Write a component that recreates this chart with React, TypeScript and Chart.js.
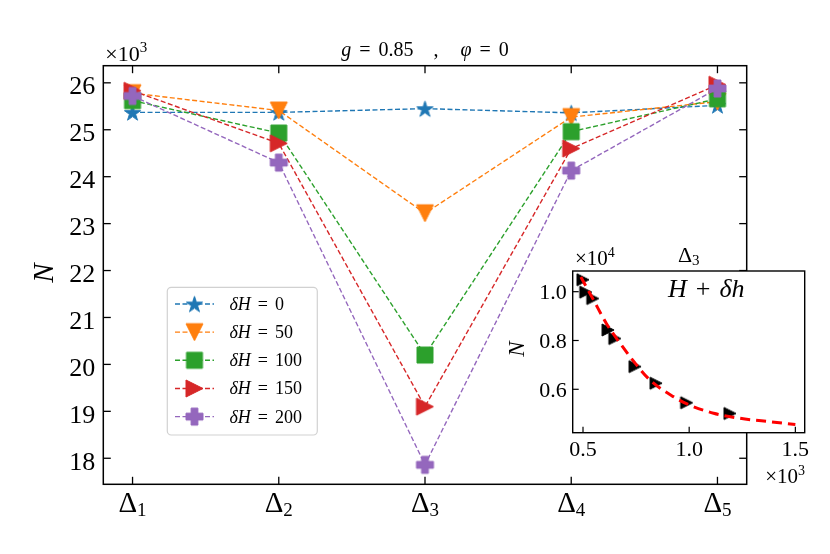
import React, { useEffect, useRef } from "react";
import { Chart, registerables } from "chart.js";

Chart.register(...registerables);

// ---------- data ----------
const categories = ["1", "2", "3", "4", "5"]; // subscripts of Δ
const seriesLabels = ["0", "50", "100", "150", "200"]; // δH values
const dH0 = [25370, 25370, 25450, 25360, 25520];
const dH50 = [25780, 25410, 23220, 25270, 25600];
const dH100 = [25620, 24930, 20200, 24960, 25660];
const dH150 = [25830, 24710, 19100, 24600, 25960];
const dH200 = [25720, 24300, 17860, 24130, 25880];
const yTicks = [18000, 19000, 20000, 21000, 22000, 23000, 24000, 25000, 26000];
const yTickLabels = ["18", "19", "20", "21", "22", "23", "24", "25", "26"];

const insetX = [500, 513, 546, 618, 650, 745, 844, 988, 1192];
const insetY = [10490, 9980, 9720, 8430, 8080, 6930, 6250, 5450, 5010];
const fitX = [490, 550, 610, 675, 740, 815, 925, 1000, 1115, 1240, 1380, 1500];
const fitY = [10600, 9650, 8700, 7880, 7130, 6380, 5700, 5360, 5020, 4810, 4670, 4560];
const insetXTicks = [500, 1000, 1500];
const insetXTickLabels = ["0.5", "1.0", "1.5"];
const insetYTicks = [6000, 8000, 10000];
const insetYTickLabels = ["0.6", "0.8", "1.0"];

// ---------- styles ----------
const COLORS = ["#1f77b4", "#ff7f0e", "#2ca02c", "#d62728", "#9467bd"];
const SHAPES = ["star", "v", "square", ">", "plus"];
const SIZES = [17, 17, 16, 17, 17];
const FAM = '"Liberation Serif", "DejaVu Serif", serif';
const rm = (px: number) => `${px}px ${FAM}`;
const it = (px: number) => `italic ${px}px ${FAM}`;

function makeMarker(shape: string, color: string, s: number): HTMLCanvasElement {
  const n = Math.ceil(s + 4);
  const c = document.createElement("canvas");
  c.width = n;
  c.height = n;
  const g = c.getContext("2d")!;
  g.translate(n / 2, n / 2);
  const h = s / 2;
  g.beginPath();
  if (shape === "star") {
    const R = h;
    const r = R * 0.382;
    for (let k = 0; k < 10; k++) {
      const ang = -Math.PI / 2 + (k * Math.PI) / 5;
      const rr = k % 2 === 0 ? R : r;
      const px = rr * Math.cos(ang);
      const py = rr * Math.sin(ang) + R * 0.1;
      if (k === 0) g.moveTo(px, py);
      else g.lineTo(px, py);
    }
  } else if (shape === "v") {
    g.moveTo(-h, -h);
    g.lineTo(h, -h);
    g.lineTo(0, h);
  } else if (shape === ">") {
    g.moveTo(-h, -h);
    g.lineTo(h, 0);
    g.lineTo(-h, h);
  } else if (shape === "square") {
    g.rect(-h, -h, s, s);
  } else if (shape === "plus") {
    const a = s * 0.2;
    g.moveTo(-a, -h);
    g.lineTo(a, -h);
    g.lineTo(a, -a);
    g.lineTo(h, -a);
    g.lineTo(h, a);
    g.lineTo(a, a);
    g.lineTo(a, h);
    g.lineTo(-a, h);
    g.lineTo(-a, a);
    g.lineTo(-h, a);
    g.lineTo(-h, -a);
    g.lineTo(-a, -a);
  }
  g.closePath();
  g.fillStyle = color;
  g.fill();
  g.strokeStyle = color;
  g.lineWidth = 1;
  g.stroke();
  return c;
}

type Seg = { t: string; f: string; dx?: number; dy?: number };
function segsWidth(ctx: CanvasRenderingContext2D, segs: Seg[]) {
  let w = 0;
  for (const s of segs) {
    ctx.font = s.f;
    w += (s.dx || 0) + ctx.measureText(s.t).width;
  }
  return w;
}
function drawSegs(
  ctx: CanvasRenderingContext2D,
  segs: Seg[],
  x: number,
  y: number,
  align: "left" | "center" | "right"
) {
  const w = segsWidth(ctx, segs);
  let cx = align === "left" ? x : align === "center" ? x - w / 2 : x - w;
  ctx.textAlign = "left";
  ctx.textBaseline = "alphabetic";
  for (const s of segs) {
    ctx.font = s.f;
    cx += s.dx || 0;
    ctx.fillText(s.t, cx, y + (s.dy || 0));
    cx += ctx.measureText(s.t).width;
  }
}
function line(ctx: CanvasRenderingContext2D, x1: number, y1: number, x2: number, y2: number) {
  ctx.beginPath();
  ctx.moveTo(x1, y1);
  ctx.lineTo(x2, y2);
  ctx.stroke();
}

export default function App() {
  const mainRef = useRef<HTMLCanvasElement>(null);
  const insetRef = useRef<HTMLCanvasElement>(null);

  useEffect(() => {
    const series = [dH0, dH50, dH100, dH150, dH200];
    const markers = series.map((_, i) => makeMarker(SHAPES[i], COLORS[i], SIZES[i]));

    const mainPlugin = {
      id: "mainDeco",
      afterDraw(chart: any) {
        const { ctx, chartArea: a, scales } = chart;
        const xs = scales.x;
        const ys = scales.y;
        ctx.save();
        ctx.setLineDash([]);
        ctx.strokeStyle = "#000";
        ctx.fillStyle = "#000";
        // ticks
        ctx.lineWidth = 1.3;
        yTicks.forEach((v, i) => {
          const py = ys.getPixelForValue(v);
          line(ctx, a.left, py, a.left + 7.5, py);
          line(ctx, a.right, py, a.right - 7.5, py);
          drawSegs(ctx, [{ t: yTickLabels[i], f: rm(26) }], a.left - 8, py + 11.3, "right");
        });
        categories.forEach((c, i) => {
          const px = xs.getPixelForValue(i);
          line(ctx, px, a.bottom, px, a.bottom - 7.5);
          line(ctx, px, a.top, px, a.top + 7.5);
          drawSegs(
            ctx,
            [
              { t: "Δ", f: rm(29) },
              { t: c, f: rm(19), dy: 3.8 },
            ],
            px,
            a.bottom + 27.4,
            "center"
          );
        });
        // frame
        ctx.lineWidth = 1.5;
        ctx.strokeRect(a.left, a.top, a.right - a.left, a.bottom - a.top);

        // offset text ×10^3
        drawSegs(
          ctx,
          [
            { t: "×10", f: rm(22) },
            { t: "3", f: rm(15), dy: -8.5 },
          ],
          a.left + 2,
          60.5,
          "left"
        );
        // title
        drawSegs(
          ctx,
          [
            { t: "g", f: it(20) },
            { t: "=", f: rm(20), dx: 8 },
            { t: "0.85", f: rm(20), dx: 8 },
            { t: ",", f: rm(20), dx: 20 },
            { t: "φ", f: it(20), dx: 22 },
            { t: "=", f: rm(20), dx: 8 },
            { t: "0", f: rm(20), dx: 8 },
          ],
          (a.left + a.right) / 2,
          56,
          "center"
        );
        // y label
        ctx.save();
        ctx.translate(53, 273);
        ctx.rotate(-Math.PI / 2);
        drawSegs(ctx, [{ t: "N", f: it(29) }], 0, 0, "center");
        ctx.restore();

        // legend
        const lx = 167.3,
          ly = 287.3,
          lw = 150,
          lh = 147.7;
        ctx.beginPath();
        const r = 4;
        ctx.moveTo(lx + r, ly);
        ctx.arcTo(lx + lw, ly, lx + lw, ly + lh, r);
        ctx.arcTo(lx + lw, ly + lh, lx, ly + lh, r);
        ctx.arcTo(lx, ly + lh, lx, ly, r);
        ctx.arcTo(lx, ly, lx + lw, ly, r);
        ctx.closePath();
        ctx.fillStyle = "rgba(255,255,255,0.8)";
        ctx.fill();
        ctx.strokeStyle = "rgba(204,204,204,0.9)";
        ctx.lineWidth = 1.2;
        ctx.stroke();
        series.forEach((_, i) => {
          const yy = 304 + i * 28.15;
          ctx.strokeStyle = COLORS[i];
          ctx.lineWidth = 1.4;
          ctx.setLineDash([5, 2.5]);
          line(ctx, 175, yy, 214, yy);
          ctx.setLineDash([]);
          const m = markers[i];
          ctx.drawImage(m, 194.5 - m.width / 2, yy - m.height / 2);
          ctx.fillStyle = "#000";
          drawSegs(
            ctx,
            [
              { t: "δ", f: it(18) },
              { t: "H", f: it(18) },
              { t: "=", f: rm(18), dx: 7 },
              { t: seriesLabels[i], f: rm(18), dx: 7 },
            ],
            229.5,
            yy + 6,
            "left"
          );
        });
        ctx.restore();
      },
    };

    const main = new Chart(mainRef.current!, {
      type: "line",
      data: {
        datasets: series.map((s, i) => ({
          label: "δH = " + seriesLabels[i],
          data: s.map((v, j) => ({ x: j, y: v })),
          borderColor: COLORS[i],
          backgroundColor: COLORS[i],
          borderWidth: 1.4,
          borderDash: [5, 2.5],
          pointStyle: markers[i] as any,
          pointRadius: 9,
          pointHoverRadius: 9,
          order: 4 - i,
          clip: false as any,
          tension: 0,
        })),
      },
      options: {
        animation: false,
        responsive: false,
        maintainAspectRatio: false,
        layout: { padding: { left: 103.3, right: 83.3, top: 65.7, bottom: 69.7 } },
        scales: {
          x: { type: "linear", min: -0.2, max: 4.2, display: false },
          y: { type: "linear", min: 17445, max: 26365, display: false },
        },
        plugins: { legend: { display: false }, tooltip: { enabled: false }, title: { display: false } },
        events: [],
      },
      plugins: [mainPlugin],
    });

    // ---------- inset ----------
    const OX = 500,
      OY = 230;
    const insetMarker = makeMarker(">", "#000", 12);
    const insetPlugin = {
      id: "insetDeco",
      beforeDatasetsDraw(chart: any) {
        const { ctx, chartArea: a } = chart;
        ctx.save();
        ctx.fillStyle = "#fff";
        ctx.fillRect(a.left, a.top, a.right - a.left, a.bottom - a.top);
        ctx.restore();
      },
      afterDraw(chart: any) {
        const { ctx, chartArea: a, scales } = chart;
        const xs = scales.x;
        const ys = scales.y;
        ctx.save();
        ctx.setLineDash([]);
        ctx.strokeStyle = "#000";
        ctx.fillStyle = "#000";
        ctx.lineWidth = 1.2;
        insetYTicks.forEach((v, i) => {
          const py = ys.getPixelForValue(v);
          line(ctx, a.left, py, a.left + 6, py);
          drawSegs(ctx, [{ t: insetYTickLabels[i], f: rm(22) }], a.left - 6, py + 7.5, "right");
        });
        insetXTicks.forEach((v, i) => {
          const px = xs.getPixelForValue(v);
          line(ctx, px, a.bottom, px, a.bottom - 6);
          drawSegs(ctx, [{ t: insetXTickLabels[i], f: rm(22) }], px, a.bottom + 23.5, "center");
        });
        ctx.lineWidth = 1.4;
        ctx.strokeRect(a.left, a.top, a.right - a.left, a.bottom - a.top);
        // offset texts
        drawSegs(
          ctx,
          [
            { t: "×10", f: rm(21) },
            { t: "4", f: rm(14), dy: -8 },
          ],
          575 - OX,
          265 - OY,
          "left"
        );
        drawSegs(
          ctx,
          [
            { t: "×10", f: rm(21) },
            { t: "3", f: rm(14), dy: -8 },
          ],
          805 - OX,
          483.3 - OY,
          "right"
        );
        // title Δ3
        drawSegs(
          ctx,
          [
            { t: "Δ", f: rm(22) },
            { t: "3", f: rm(15), dy: 3 },
          ],
          (a.left + a.right) / 2,
          261.7 - OY,
          "center"
        );
        // annotation
        drawSegs(
          ctx,
          [
            { t: "H", f: it(26) },
            { t: "+", f: rm(26), dx: 9 },
            { t: "δh", f: it(26), dx: 9 },
          ],
          668 - OX,
          296.7 - OY,
          "left"
        );
        // y label
        ctx.save();
        ctx.translate(524 - OX, 349 - OY);
        ctx.rotate(-Math.PI / 2);
        drawSegs(ctx, [{ t: "N", f: it(23) }], 0, 0, "center");
        ctx.restore();
        ctx.restore();
      },
    };

    const inset = new Chart(insetRef.current!, {
      type: "line",
      data: {
        datasets: [
          {
            label: "fit",
            data: fitX.map((x, i) => ({ x, y: fitY[i] })),
            borderColor: "#ff0000",
            borderWidth: 3,
            borderDash: [10, 6],
            pointRadius: 0,
            cubicInterpolationMode: "monotone",
            order: 0,
          } as any,
          {
            label: "data",
            data: insetX.map((x, i) => ({ x, y: insetY[i] })),
            showLine: false,
            pointStyle: insetMarker as any,
            pointRadius: 6,
            order: 1,
            clip: false as any,
          },
        ],
      },
      options: {
        animation: false,
        responsive: false,
        maintainAspectRatio: false,
        layout: { padding: { left: 72.7, right: 25.3, top: 41, bottom: 67.3 } },
        scales: {
          x: { type: "linear", min: 451.5, max: 1544, display: false },
          y: { type: "linear", min: 4221, max: 10848, display: false },
        },
        plugins: { legend: { display: false }, tooltip: { enabled: false }, title: { display: false } },
        events: [],
      },
      plugins: [insetPlugin],
    });

    return () => {
      main.destroy();
      inset.destroy();
    };
  }, []);

  return (
    <div style={{ position: "absolute", left: 0, top: 0, width: 830, height: 554, background: "#fff" }}>
      <canvas
        ref={mainRef}
        width={830}
        height={554}
        style={{ position: "absolute", left: 0, top: 0, width: 830, height: 554 }}
      />
      <canvas
        ref={insetRef}
        width={330}
        height={270}
        style={{ position: "absolute", left: 500, top: 230, width: 330, height: 270 }}
      />
    </div>
  );
}
